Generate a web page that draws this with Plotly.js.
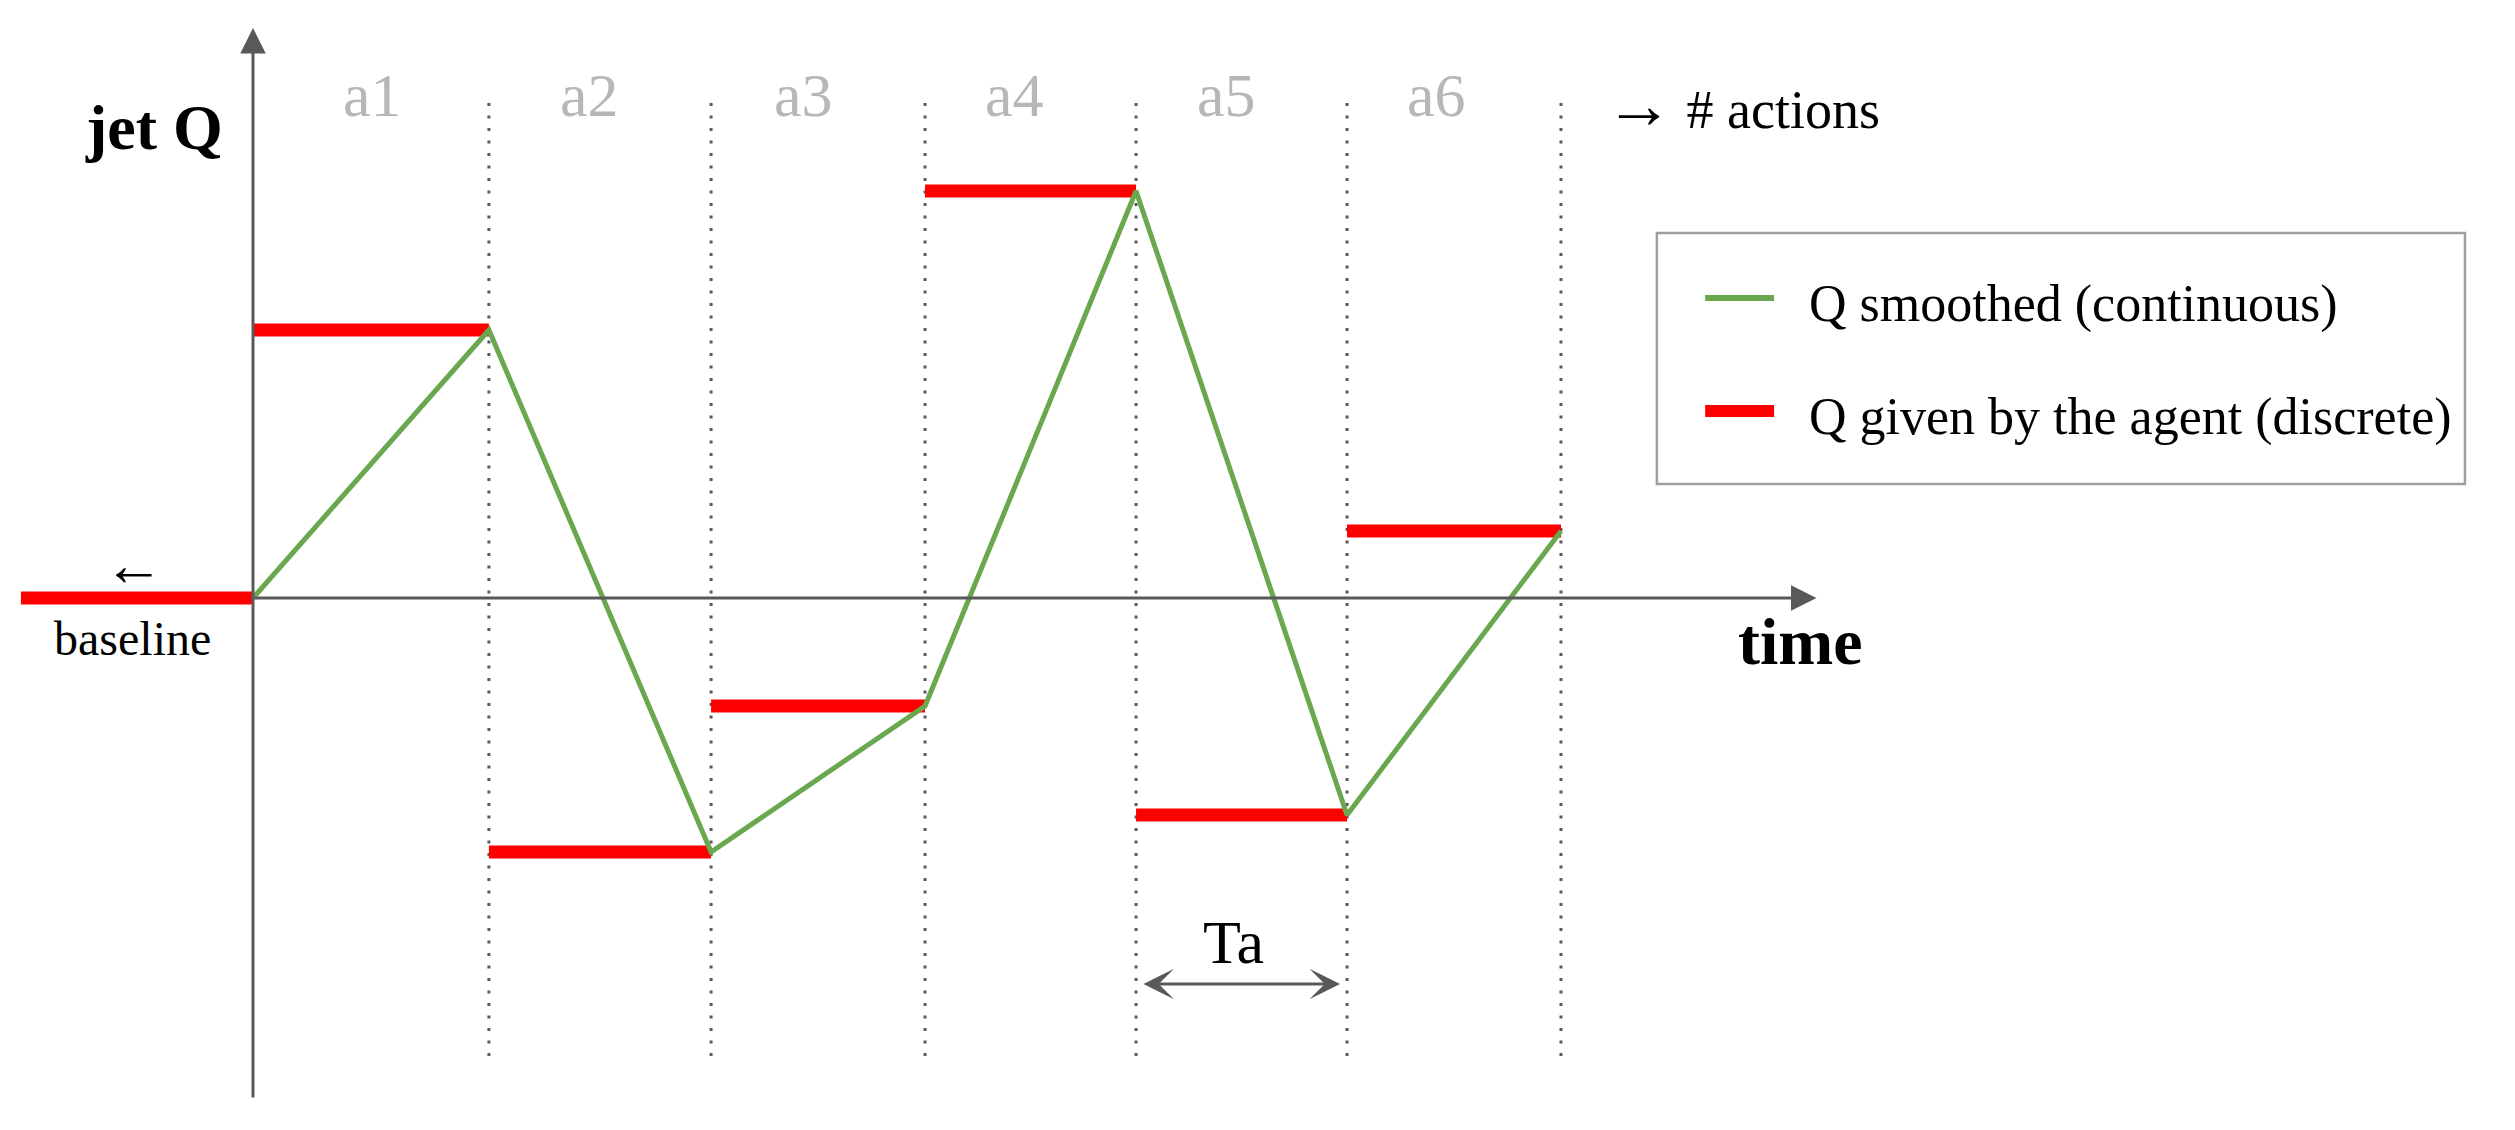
<!DOCTYPE html>
<html>
<head>
<meta charset="utf-8">
<script src="https://cdn.plot.ly/plotly-3.0.1.min.js"></script>
<style>
  html, body { margin: 0; padding: 0; background: #ffffff; }
  #chart { width: 2515px; height: 1130px; }
</style>
</head>
<body>
<div id="chart"></div>
<script>
// action boundaries on the time axis (1 unit ~ one action period Ta)
var boundaries = [0, 1.118, 2.171, 3.185, 4.185, 5.185, 6.199];
// Q given by the agent for each action a1..a6 (discrete)
var actionQ = [2.68, -2.54, -1.08, 4.07, -2.17, 0.67];
var actionLabels = ['a1', 'a2', 'a3', 'a4', 'a5', 'a6'];
var labelX = [0.564, 1.597, 2.611, 3.607, 4.616, 5.607];
// Q before the first action
var baselineStart = -1.10;
var baselineQ = 0;

var grey = '#595959';
var serif = 'Liberation Serif, Times New Roman, serif';

//red steps: one flat segment per action, gaps with null
var redX = [baselineStart, boundaries[0], null];
var redY = [baselineQ, baselineQ, null];
for(var i = 0; i < actionQ.length; i++){
	redX.push(boundaries[i], boundaries[i + 1], null);
	redY.push(actionQ[i], actionQ[i], null);
}

//green: smoothed Q reaches each action value at the end of its period
var greenX = [boundaries[0]];
var greenY = [baselineQ];
for(var i = 0; i < actionQ.length; i++){
	greenX.push(boundaries[i + 1]);
	greenY.push(actionQ[i]);
}

//dotted separators between actions
var dotX = [];
var dotY = [];
for(var i = 1; i < boundaries.length; i++){
	dotX.push(boundaries[i], boundaries[i], null);
	dotY.push(-4.58, 4.99, null);
}

var traceDots = {
	x: dotX,
	y: dotY,
	mode: 'lines',
	type: 'scatter',
	line: {color: grey, width: 3, dash: '3px,9.5px'},
	hoverinfo: 'skip',
	showlegend: false,
};

var traceRed = {
	x: redX,
	y: redY,
	mode: 'lines',
	type: 'scatter',
	name: 'Q given by the agent (discrete)',
	line: {color: '#ff0000', width: 13},
	connectgaps: false,
	showlegend: false,
};

var traceGreen = {
	x: greenX,
	y: greenY,
	mode: 'lines',
	type: 'scatter',
	name: 'Q smoothed (continuous)',
	line: {color: '#6aa84f', width: 5},
	showlegend: false,
};

var annotations = [];

//axes drawn as arrows
annotations.push({
	x: 0, y: 5.70, ax: 0, ay: -5.01,
	xref: 'x', yref: 'y', axref: 'x', ayref: 'y',
	text: '', showarrow: true,
	arrowhead: 2, arrowsize: 1.7, arrowwidth: 3, arrowcolor: grey,
});
annotations.push({
	x: 7.41, y: 0, ax: 0, ay: 0,
	xref: 'x', yref: 'y', axref: 'x', ayref: 'y',
	text: '', showarrow: true,
	arrowhead: 2, arrowsize: 1.7, arrowwidth: 3, arrowcolor: grey,
});

//Ta double arrow
annotations.push({
	x: 5.152, y: -3.86, ax: 4.213, ay: -3.86,
	xref: 'x', yref: 'y', axref: 'x', ayref: 'y',
	text: '', showarrow: true, arrowside: 'end+start',
	arrowhead: 3, startarrowhead: 3, arrowsize: 1.7, startarrowsize: 1.7,
	arrowwidth: 3, arrowcolor: grey,
});

for(var i = 0; i < actionLabels.length; i++){
	annotations.push({
		x: labelX[i], y: 5.03, xref: 'x', yref: 'y',
		text: actionLabels[i], showarrow: false,
		font: {family: serif, size: 62, color: '#b7b7b7'},
	});
}

annotations.push({
	x: -0.469, y: 4.71, xref: 'x', yref: 'y',
	text: '<b>jet Q</b>', showarrow: false,
	font: {family: serif, size: 64, color: '#000000'},
});
annotations.push({
	x: 7.336, y: -0.43, xref: 'x', yref: 'y',
	text: '<b>time</b>', showarrow: false,
	font: {family: serif, size: 66, color: '#000000'},
});
annotations.push({
	x: -0.573, y: -0.40, xref: 'x', yref: 'y',
	text: 'baseline', showarrow: false,
	font: {family: serif, size: 48, color: '#000000'},
});
annotations.push({
	x: -0.564, y: 0.33, xref: 'x', yref: 'y',
	text: '←', showarrow: false,
	font: {family: serif, size: 60, color: '#000000'},
});
annotations.push({
	x: 6.40, y: 4.93, xref: 'x', yref: 'y', xanchor: 'left',
	text: '<span style="font-size:68px">→</span> # actions', showarrow: false,
	font: {family: serif, size: 54, color: '#000000'},
});
annotations.push({
	x: 4.649, y: -3.44, xref: 'x', yref: 'y',
	text: 'Ta', showarrow: false,
	font: {family: serif, size: 62, color: '#000000'},
});

//legend box
annotations.push({
	x: 0.7185, y: 0.731, xref: 'paper', yref: 'paper',
	xanchor: 'left', yanchor: 'middle',
	text: 'Q smoothed (continuous)', showarrow: false,
	font: {family: serif, size: 52, color: '#000000'},
});
annotations.push({
	x: 0.7185, y: 0.631, xref: 'paper', yref: 'paper',
	xanchor: 'left', yanchor: 'middle',
	text: 'Q given by the agent (discrete)', showarrow: false,
	font: {family: serif, size: 52, color: '#000000'},
});

var shapes = [
	{type: 'rect', xref: 'paper', yref: 'paper',
	 x0: 0.6588, x1: 0.9801, y0: 0.5717, y1: 0.7938,
	 line: {color: '#9e9e9e', width: 2.5}, fillcolor: 'rgba(0,0,0,0)'},
	{type: 'line', xref: 'paper', yref: 'paper',
	 x0: 0.678, x1: 0.7054, y0: 0.7363, y1: 0.7363,
	 line: {color: '#6aa84f', width: 6}},
	{type: 'line', xref: 'paper', yref: 'paper',
	 x0: 0.678, x1: 0.7054, y0: 0.6363, y1: 0.6363,
	 line: {color: '#ff0000', width: 12}},
];

var layout = {
	width: 2515,
	height: 1130,
	margin: {l: 0, r: 0, t: 0, b: 0},
	paper_bgcolor: '#ffffff',
	plot_bgcolor: '#ffffff',
	showlegend: false,
	xaxis: {range: [-253 / 211, (2515 - 253) / 211], visible: false, fixedrange: true},
	yaxis: {range: [-5.32, 5.98], visible: false, fixedrange: true},
	annotations: annotations,
	shapes: shapes,
};

var pdata = [traceDots, traceRed, traceGreen];
Plotly.newPlot('chart', pdata, layout, {staticPlot: true});
</script>
</body>
</html>
